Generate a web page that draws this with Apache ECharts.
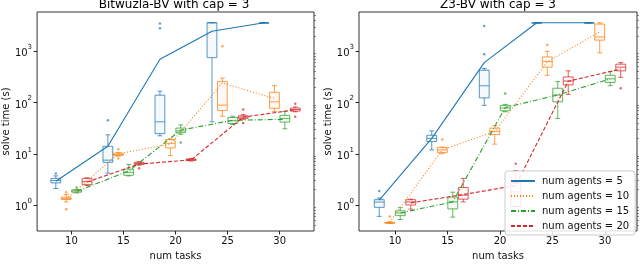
<!DOCTYPE html>
<html>
<head>
<meta charset="utf-8">
<script src="https://cdn.jsdelivr.net/npm/echarts@6/dist/echarts.min.js"></script>
<style>html,body{margin:0;padding:0;background:#fff;}#c{width:640px;height:266px;}</style>
</head>
<body>
<div id="c"></div>
<script>
// ---------- data ----------
const numTasks = [10, 15, 20, 25, 30];
const numAgents = [5, 10, 15, 20];
const xTickValues = [10, 15, 20, 25, 30];
const yTickValues = [1, 10, 100, 1000];
const titles = ['Bitwuzla-BV with cap = 3', 'Z3-BV with cap = 3'];

// box stats per num tasks: [lowWhisker, q1, median, q3, highWhisker]
const bwBox5  = [[2.1,2.7,3.0,3.3,3.7],[4.2,6.8,7.5,14,23.4],[22.4,24.7,42,139,166],[42,750,3600,3600,3600],[3600,3600,3600,3600,3600]];
const bwBox10 = [[1.15,1.28,1.35,1.42,1.6],[9.0,9.2,9.7,10.3,10.6],[9.2,13,16,19,19.5],[54,70,89,256,300],[67,77,103,158,214]];
const bwBox15 = [[1.72,1.78,1.88,1.98,2.0],[3.7,3.8,4.35,5.0,6.2],[24,25.8,28,31.7,36.5],[37,39,44,51,54],[30.7,41.5,49,56,67]];
const bwBox20 = [[2.4,2.5,2.86,3.3,3.4],[6.0,6.2,6.5,6.8,7.0],[7.2,7.4,7.7,7.9,8.1],[47,49,52,55,58],[66,68,73,78,82]];
const bwMean5  = [2.9, 14, 700, 2450, 3600];
const bwMean10 = [1.3, 10, 15.5, 240, 120];
const bwMean15 = [1.85, 4.6, 29, 45, 47];
const bwMean20 = [2.8, 6.3, 7.6, 52, 72];
const bwFliers5  = [[10,4.1],[15,45],[20,3500],[20,2800]];
const bwFliers10 = [[10,1.78],[10,0.83],[15,12.3],[15,8.1],[25,1260]];
const bwFliers15 = [[10,2.2],[20,16.5]];
const bwFliers20 = [[15,5.2],[25,73],[25,40],[30,95],[30,53]];

const z3Box5  = [[0.6,0.9,1.14,1.27,1.37],[11.9,17.3,20,23,28],[88,123,212,426,460],[3600,3600,3600,3600,3600],[3600,3600,3600,3600,3600]];
const z3Box10 = [[0.44,0.44,0.45,0.46,0.47],[10,10.6,11.9,13.3,13.5],[15.4,23.7,27.3,31.6,35.5],[340,490,630,775,1000],[930,1650,1900,3400,3600]];
const z3Box15 = [[0.52,0.62,0.7,0.77,0.89],[0.58,0.84,1.15,1.43,1.78],[66,69,78,88,92],[49,103,140,190,256],[213,247,290,340,400]];
const z3Box20 = [[0.83,1.0,1.15,1.27,1.3],[1.15,1.3,1.56,2.2,3.3],[0.94,0.94,1.8,2.7,4.7],[144,221,263,316,415],[310,415,490,560,600]];
const z3Mean5  = [1.25, 20, 600, 3600, 3600];
const z3Mean10 = [0.46, 12, 27, 620, 2400];
const z3Mean15 = [0.7, 1.15, 80, 140, 290];
const z3Mean20 = [1.1, 1.6, 2.4, 260, 450];
const z3Fliers5  = [[10,1.87],[20,3100],[20,870]];
const z3Fliers10 = [[10,0.6],[15,19],[25,1330]];
const z3Fliers15 = [[20,150]];
const z3Fliers20 = [[20,6.4],[30,190]];

// ---------- styling ----------
const FONT = 'DejaVu Sans';
const colors = ['#1f77b4', '#ff7f0e', '#2ca02c', '#d62728'];
const dashes = ['solid', [1, 2], [5, 2, 1, 2], [4, 2]];
const plots = [
  {box: [bwBox5, bwBox10, bwBox15, bwBox20], mean: [bwMean5, bwMean10, bwMean15, bwMean20], fl: [bwFliers5, bwFliers10, bwFliers15, bwFliers20]},
  {box: [z3Box5, z3Box10, z3Box15, z3Box20], mean: [z3Mean5, z3Mean10, z3Mean15, z3Mean20], fl: [z3Fliers5, z3Fliers10, z3Fliers15, z3Fliers20]}
];
const grids = [
  {left: 34, top: 12, width: 280, height: 228},
  {left: 359, top: 12, width: 278, height: 228}
];
const xRanges = [[6.7, 33.3], [6.57, 33.05]];
const yMin = 0.311, yMax = 5840;
const minorVals = [];
for (let k = -1; k <= 3; k++) for (let m = 2; m <= 9; m++) { const v = m * Math.pow(10, k); if (v > yMin && v < yMax) minorVals.push(v); }

const pos = (task, ai) => task + (ai - 1.5);

function boxRenderer(color) {
  return function (params, api) {
    const x = api.value(0);
    const lo = api.coord([x, api.value(1)]);
    const q1 = api.coord([x, api.value(2)]);
    const md = api.coord([x, api.value(3)]);
    const q3 = api.coord([x, api.value(4)]);
    const hi = api.coord([x, api.value(5)]);
    const l = api.coord([x - 0.47, api.value(3)])[0];
    const r = api.coord([x + 0.47, api.value(3)])[0];
    const cx = lo[0];
    const cw = (r - l) / 4;
    const st = {stroke: color, lineWidth: 1, fill: null, opacity: 0.75};
    return {
      type: 'group',
      children: [
        {type: 'rect', shape: {x: l, y: q3[1], width: r - l, height: Math.max(q1[1] - q3[1], 0.5)}, style: {stroke: color, lineWidth: 1, fill: color, fillOpacity: 0.06, opacity: 0.75}},
        {type: 'line', shape: {x1: l, y1: md[1], x2: r, y2: md[1]}, style: st},
        {type: 'line', shape: {x1: cx, y1: q1[1], x2: cx, y2: lo[1]}, style: st},
        {type: 'line', shape: {x1: cx, y1: q3[1], x2: cx, y2: hi[1]}, style: st},
        {type: 'line', shape: {x1: cx - cw, y1: lo[1], x2: cx + cw, y2: lo[1]}, style: st},
        {type: 'line', shape: {x1: cx - cw, y1: hi[1], x2: cx + cw, y2: hi[1]}, style: st}
      ]
    };
  };
}

const xAxes = [], yAxes = [], series = [];
const lbl = {fontFamily: FONT, fontSize: 10, color: '#111'};
for (let p = 0; p < 2; p++) {
  xAxes.push({
    type: 'value', gridIndex: p, min: xRanges[p][0], max: xRanges[p][1],
    name: 'num tasks', nameLocation: 'middle', nameGap: 20, nameTextStyle: lbl,
    axisLine: {show: false}, splitLine: {show: false},
    axisTick: {show: true, length: 3.5, customValues: xTickValues, lineStyle: {color: '#222'}},
    axisLabel: Object.assign({customValues: xTickValues, margin: 5}, lbl)
  });
  yAxes.push({
    type: 'log', logBase: 10, gridIndex: p, min: yMin, max: yMax,
    name: 'solve time (s)', nameLocation: 'middle', nameGap: 26, nameTextStyle: lbl,
    axisLine: {show: false}, splitLine: {show: false},
    axisTick: {show: true, length: 3.5, customValues: yTickValues, lineStyle: {color: '#222'}},
    axisLabel: {
      customValues: yTickValues, margin: 5,
      formatter: v => '{b|10}{s|' + Math.round(Math.log10(v)) + '}',
      rich: {
        b: {fontFamily: FONT, fontSize: 10, color: '#111', verticalAlign: 'bottom', lineHeight: 15},
        s: {fontFamily: FONT, fontSize: 7, color: '#111', verticalAlign: 'top', lineHeight: 15}
      }
    }
  });
  yAxes.push({
    type: 'log', logBase: 10, gridIndex: p, min: yMin, max: yMax,
    axisLine: {show: false}, splitLine: {show: false}, axisLabel: {show: false},
    axisTick: {show: true, length: 2, customValues: minorVals, lineStyle: {color: '#444', width: 0.6}}
  });
  const pl = plots[p];
  for (let a = 0; a < 4; a++) {
    const boxData = pl.box[a].map((b, i) => [pos(numTasks[i], a)].concat(b));
    series.push({
      type: 'custom', name: 'box' + p + a, xAxisIndex: p, yAxisIndex: 2 * p, z: 2,
      renderItem: boxRenderer(colors[a]), encode: {x: 0, y: [1, 2, 3, 4, 5]}, data: boxData, silent: true
    });
    series.push({
      type: 'scatter', name: 'fl' + p + a, xAxisIndex: p, yAxisIndex: 2 * p, z: 2,
      symbolSize: 2.5, itemStyle: {color: colors[a], opacity: 0.7}, silent: true,
      data: pl.fl[a].map(f => [pos(f[0], a), f[1]])
    });
    series.push({
      type: 'line', name: 'num agents = ' + numAgents[a], xAxisIndex: p, yAxisIndex: 2 * p, z: 3,
      symbol: 'none', showSymbol: false, color: colors[a],
      lineStyle: {color: colors[a], width: 1.1, type: dashes[a]},
      data: pl.mean[a].map((m, i) => [pos(numTasks[i], a), m])
    });
  }
}

const chart = echarts.init(document.getElementById('c'), null, {renderer: 'canvas'});
chart.setOption({
  animation: false,
  backgroundColor: '#fff',
  grid: grids.map(g => Object.assign({show: true, borderColor: '#333', borderWidth: 1, backgroundColor: 'transparent'}, g)),
  graphic: titles.map((t, p) => ({
    type: 'text',
    x: grids[p].left + grids[p].width / 2, y: -1,
    style: {text: t, fontFamily: FONT, fontSize: 12, fill: '#000', align: 'center', verticalAlign: 'top'}
  })),
  legend: {
    show: true, orient: 'vertical', left: 505, top: 171,
    data: numAgents.map(n => 'num agents = ' + n),
    itemWidth: 24, itemHeight: 10, itemGap: 5,
    padding: [5, 6, 4, 5],
    itemStyle: {opacity: 0},
    backgroundColor: 'rgba(255,255,255,0.85)', borderColor: '#ccc', borderWidth: 1, borderRadius: 3,
    textStyle: {fontFamily: FONT, fontSize: 10, color: '#111', padding: [0, 0, 0, 2]}
  },
  xAxis: xAxes,
  yAxis: yAxes,
  series: series
});
</script>
</body>
</html>
